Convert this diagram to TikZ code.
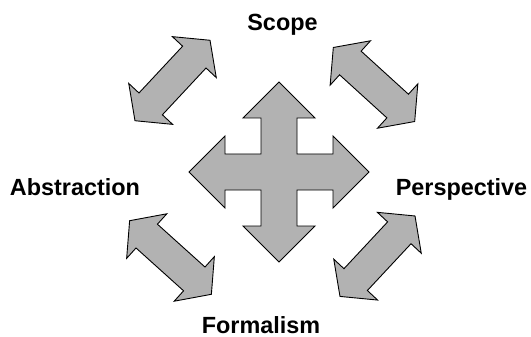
\documentclass[tikz,border=0pt]{standalone}
\usepackage{fontspec}
\setmainfont{Liberation Sans}
\tikzset{
  blockarrow/.style={draw=black, fill=gray!60, line width=0.9pt, line join=miter},
  viewlabel/.style={font=\fontsize{23.4}{28}\selectfont\bfseries, anchor=base, inner sep=0pt}
}
% double headed arrow, centre at (#1,#2), turned by #3
\newcommand{\dblarrow}[3]{%
  \draw[blockarrow, shift={(#1,#2)}, rotate=#3]
    (55,0) -- (32,30) -- (32,16) -- (-32,16) -- (-32,30) -- (-55,0)
    -- (-32,-30) -- (-32,-16) -- (32,-16) -- (32,-30) -- cycle;}
\begin{document}
\begin{tikzpicture}[x=1pt,y=-1pt]
  \useasboundingbox (0,0) rectangle (531,337);
  % the cross in the middle
  \draw[blockarrow, shift={(279,172)}]
    (0,-90) -- (36,-54) -- (18,-54) -- (18,-18) -- (54,-18) -- (54,-36)
    -- (90,0) -- (54,36) -- (54,18) -- (18,18) -- (18,54) -- (36,54)
    -- (0,90) -- (-36,54) -- (-18,54) -- (-18,18) -- (-54,18) -- (-54,36)
    -- (-90,0) -- (-54,-36) -- (-54,-18) -- (-18,-18) -- (-18,-54)
    -- (-36,-54) -- cycle;
  % the four corner arrows
  \dblarrow{172.5}{80.5}{47}
  \dblarrow{374}{84.5}{-42.3}
  \dblarrow{170.5}{257.5}{-42}
  \dblarrow{377.5}{256.2}{47}
  % labels
  \node[viewlabel] (scope) at (282.5,31) {Scope};
  \node[viewlabel] (abstraction) at (75,195) {Abstraction};
  \node[viewlabel] (perspective) at (461.5,195) {Perspective};
  \node[viewlabel] (formalism) at (261,333.5) {Formalism};
\end{tikzpicture}
\end{document}
